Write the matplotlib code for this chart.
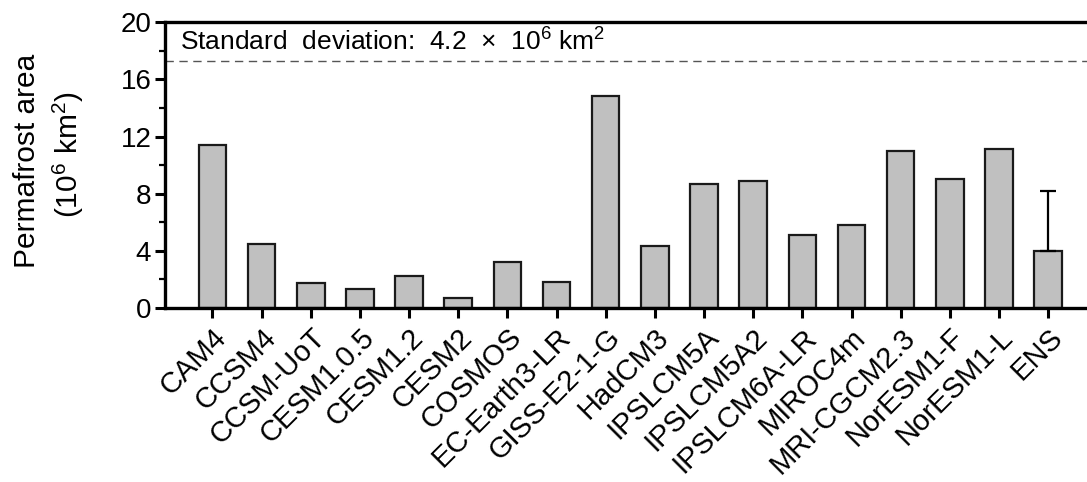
import numpy as np
import matplotlib
matplotlib.use('Agg')
import matplotlib.pyplot as plt
from matplotlib.ticker import MultipleLocator

plt.rcParams['font.family'] = ['Liberation Sans', 'DejaVu Sans']
plt.rcParams['mathtext.fontset'] = 'custom'
plt.rcParams['mathtext.rm'] = 'Liberation Sans'
plt.rcParams['mathtext.it'] = 'Liberation Sans:italic'

# --- data ---
models = ['CAM4', 'CCSM4', 'CCSM-UoT', 'CESM1.0.5', 'CESM1.2', 'CESM2', 'COSMOS',
          'EC-Earth3-LR', 'GISS-E2-1-G', 'HadCM3', 'IPSLCM5A', 'IPSLCM5A2',
          'IPSLCM6A-LR', 'MIROC4m', 'MRI-CGCM2.3', 'NorESM1-F', 'NorESM1-L', 'ENS']
area = [11.4, 4.5, 1.75, 1.33, 2.25, 0.72, 3.2, 1.85, 14.8, 4.35, 8.67, 8.88,
        5.1, 5.8, 10.98, 9.02, 11.15, 3.99]
ens_std = 4.2
dashed_level = 17.3

fig = plt.figure(figsize=(10.87, 4.82), dpi=100)
ax = fig.add_axes([0.152, 0.361, 0.848, 0.593])

x = np.arange(len(models))
ax.bar(x, area, width=0.56, color='#c0c0c0', edgecolor='#1a1a1a', linewidth=1.6, zorder=2)

# error bar only on ENS, upper side
ax.errorbar(x[-1], area[-1], yerr=[[0], [ens_std]], fmt='none', ecolor='black',
            elinewidth=1.6, capsize=6, capthick=1.6, zorder=3)

ax.axhline(dashed_level, color='#555555', linestyle=(0, (6, 4)), linewidth=1.0, zorder=1)
ax.text(0.016, 0.93, 'Standard  deviation:  4.2  \u00d7  10$^6$ km$^2$',
        transform=ax.transAxes, fontsize=19, va='center', ha='left')

ax.set_xlim(-0.96, len(models) - 1 + 0.79)
ax.set_ylim(0, 20)
ax.yaxis.set_major_locator(MultipleLocator(4))
ax.yaxis.set_minor_locator(MultipleLocator(2))

ax.set_xticks(x)
ax.set_xticklabels(models, rotation=45, ha='right', rotation_mode='anchor', fontsize=21)
ax.tick_params(axis='x', direction='out', length=7, width=2.2, pad=4)
ax.tick_params(axis='y', which='major', direction='out', length=7, width=2.2, labelsize=20, pad=3)
ax.tick_params(axis='y', which='minor', direction='out', length=4, width=1.6)

for side in ['left', 'bottom', 'top']:
    ax.spines[side].set_linewidth(2.4)
ax.spines['right'].set_visible(False)

# y label as two separate lines
fig.text(27 / 1087, 1 - 161 / 482, 'Permafrost area', rotation=90, fontsize=21.5,
         ha='center', va='center')
fig.text(68 / 1087, 1 - 155 / 482, '(10$^6$ km$^2$)', rotation=90, fontsize=21.5,
         ha='center', va='center')

fig.savefig('out.png', dpi=100)
